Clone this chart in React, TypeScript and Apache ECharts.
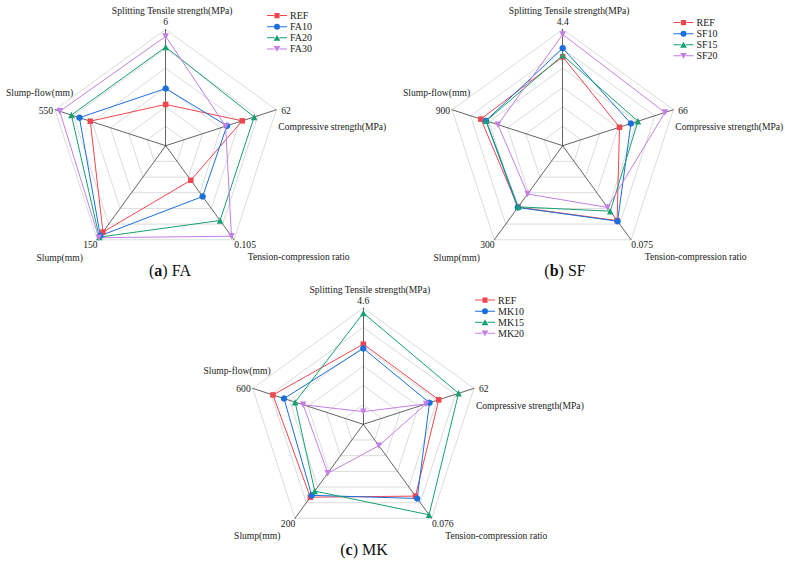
import React, { useEffect, useRef } from "react";
import * as echarts from "echarts";

// Indicator names in natural order: Splitting, Compressive, Tension-compression, Slump, Slump-flow
const indicatorNames = [
  "Splitting Tensile strength(MPa)",
  "Compressive strength(MPa)",
  "Tension-compression ratio",
  "Slump(mm)",
  "Slump-flow(mm)",
];

// (a) FA
const faMax = [6, 62, 0.105, 150, 550];
const faMaxLabels = ["6", "62", "0.105", "150", "550"];
const faNames = ["REF", "FA10", "FA20", "FA30"];
const faREF = [2.13, 42.9, 0.0386, 137.7, 375];
const faFA10 = [2.95, 34.3, 0.0567, 143.5, 429];
const faFA20 = [5.09, 49.6, 0.0835, 145.7, 469];
const faFA30 = [5.64, 33.6, 0.101, 146.7, 527];

// (b) SF
const sfMax = [4.4, 66, 0.075, 300, 900];
const sfMaxLabels = ["4.4", "66", "0.075", "300", "900"];
const sfNames = ["REF", "SF10", "SF15", "SF20"];
const sfREF = [3.36, 33.9, 0.0597, 196, 666];
const sfSF10 = [3.69, 40.7, 0.0602, 197, 625];
const sfSF15 = [3.42, 44.9, 0.0522, 195, 622];
const sfSF20 = [4.21, 61.0, 0.0492, 154, 527];

// (c) MK
const mkMax = [4.6, 62, 0.076, 200, 600];
const mkMaxLabels = ["4.6", "62", "0.076", "200", "600"];
const mkNames = ["REF", "MK10", "MK15", "MK20"];
const mkREF = [3.17, 42.3, 0.058, 155, 490];
const mkMK10 = [3.0, 37.1, 0.0599, 151, 430];
const mkMK15 = [4.4, 53.4, 0.0731, 142, 370];
const mkMK20 = [0.5, 35.2, 0.0173, 104, 326];

const captions = ["a", "b", "c"];
const captionSuffix = ["FA", "SF", "MK"];

const COLORS = ["#f0474f", "#1a6fdc", "#17a070", "#c47fe6"];
const SYMBOLS = ["rect", "circle", "triangle", "path://M0,0L10,0L5,9Z"];
const SYMBOL_SIZES = [5.5, 6.5, 6.5, 6.5];
const LEGEND_ICONS = [
  "path://M0,3H7V4H0Z M13,3H20V4H13Z M7.4,1H12.6V6.2H7.4Z",
  "path://M0,3H7V4H0Z M13,3H20V4H13Z M7,3.5A3,3,0,1,1,13,3.5A3,3,0,1,1,7,3.5Z",
  "path://M0,3H7.6V4H0Z M12.4,3H20V4H12.4Z M10,0.6L13.4,6.4L6.6,6.4Z",
  "path://M0,3H7.6V4H0Z M12.4,3H20V4H12.4Z M6.6,0.6L13.4,0.6L10,6.4Z",
];

// ECharts radar places indicators counter-clockwise from the top:
// top, left, bottom-left, bottom-right, right
const ORDER = [0, 4, 3, 2, 1];

const FONT = "Liberation Serif";
const FS = 9.6;

function reorder<T>(arr: T[]): T[] {
  return ORDER.map((i) => arr[i]);
}

function makeRadar(cx: number, cy: number, r: number, max: number[]) {
  return {
    center: [cx, cy],
    radius: r,
    startAngle: 90,
    shape: "polygon",
    splitNumber: 6,
    indicator: reorder(indicatorNames).map((n, k) => ({
      name: n,
      min: 0,
      max: reorder(max)[k],
    })),
    axisName: { show: false },
    axisLine: { lineStyle: { color: "#3c3c3c", width: 0.8 } },
    splitLine: { lineStyle: { color: "#d2d2d2", width: 0.8 } },
    splitArea: { show: false },
    axisTick: { show: false },
    axisLabel: { show: false },
  };
}

function makeSeries(radarIndex: number, names: string[], values: number[][]) {
  return {
    type: "radar",
    radarIndex,
    data: names.map((n, i) => ({
      name: n,
      value: reorder(values[i]),
      symbol: SYMBOLS[i],
      symbolSize: SYMBOL_SIZES[i],
      itemStyle: { color: COLORS[i] },
      lineStyle: { color: COLORS[i], width: 1 },
    })),
  };
}

function makeLegend(left: number, top: number, names: string[]) {
  return {
    orient: "vertical",
    left,
    top,
    padding: 0,
    itemWidth: 20,
    itemHeight: 7,
    itemGap: 0,
    itemStyle: { borderWidth: 0 },
    textStyle: {
      fontFamily: FONT,
      fontSize: 10,
      color: "#1a1a1a",
      lineHeight: 11.1,
      padding: [0, 0, 0, -2],
    },
    data: names.map((n, i) => ({ name: n, icon: LEGEND_ICONS[i] })),
  };
}

function txt(text: string, x: number, y: number, align: string) {
  return {
    type: "text",
    silent: true,
    style: {
      text,
      x,
      y,
      fill: "#1a1a1a",
      font: FS + "px " + FONT,
      fontFamily: FONT,
      fontSize: FS,
      align,
      verticalAlign: "middle",
    },
  };
}

function axisLabels(cx: number, cy: number, r: number, maxLabels: string[]) {
  const pt = (deg: number) => [
    cx + r * Math.cos((deg * Math.PI) / 180),
    cy - r * Math.sin((deg * Math.PI) / 180),
  ];
  const [tx, ty] = pt(90);
  const [rx, ry] = pt(18);
  const [brx, bry] = pt(-54);
  const [blx, bly] = pt(-126);
  const [lx, ly] = pt(162);
  return [
    txt(indicatorNames[0], tx + 6.5, ty - 18.5, "center"),
    txt(maxLabels[0], tx, ty - 8, "center"),
    txt(maxLabels[1], rx + 5, ry + 0.5, "left"),
    txt(indicatorNames[1], rx + 2, ry + 17, "left"),
    txt(maxLabels[2], brx + 0.3, bry + 5, "left"),
    txt(indicatorNames[2], brx + 13.7, bry + 17, "left"),
    txt(maxLabels[3], blx + 0.3, bly + 5, "right"),
    txt(indicatorNames[3], blx - 14.5, bly + 17.3, "right"),
    txt(maxLabels[4], lx - 2, ly + 0.3, "right"),
    txt(indicatorNames[4], lx + 18, ly - 17.5, "right"),
  ];
}

function caption(k: number, x: number, y: number) {
  return {
    type: "text",
    silent: true,
    style: {
      text: "({b|" + captions[k] + "}) " + captionSuffix[k],
      x,
      y,
      fill: "#111",
      fontFamily: FONT,
      fontSize: 16,
      align: "center",
      verticalAlign: "middle",
      rich: {
        b: { fontFamily: FONT, fontSize: 16, fontWeight: "bold", fill: "#111" },
      },
    },
  };
}

const CENTERS = [
  [165.7, 145.7],
  [562.7, 145.7],
  [363.3, 424.3],
];
const RADIUS = 116.3;

export default function App() {
  const ref = useRef<HTMLDivElement>(null);
  useEffect(() => {
    document.body.style.margin = "0";
    if (!ref.current) return;
    const chart = echarts.init(ref.current, undefined, { renderer: "svg" });
    const option = {
      animation: false,
      backgroundColor: "#ffffff",
      textStyle: { fontFamily: FONT },
      radar: [
        makeRadar(CENTERS[0][0], CENTERS[0][1], RADIUS, faMax),
        makeRadar(CENTERS[1][0], CENTERS[1][1], RADIUS, sfMax),
        makeRadar(CENTERS[2][0], CENTERS[2][1], RADIUS, mkMax),
      ],
      legend: [
        makeLegend(267, 10.1, faNames),
        makeLegend(673.5, 17, sfNames),
        makeLegend(475, 294.5, mkNames),
      ],
      series: [
        makeSeries(0, faNames, [faREF, faFA10, faFA20, faFA30]),
        makeSeries(1, sfNames, [sfREF, sfSF10, sfSF15, sfSF20]),
        makeSeries(2, mkNames, [mkREF, mkMK10, mkMK15, mkMK20]),
      ],
      graphic: [
        ...axisLabels(CENTERS[0][0], CENTERS[0][1], RADIUS, faMaxLabels),
        ...axisLabels(CENTERS[1][0], CENTERS[1][1], RADIUS, sfMaxLabels),
        ...axisLabels(CENTERS[2][0], CENTERS[2][1], RADIUS, mkMaxLabels),
        caption(0, 170, 270),
        caption(1, 565, 270),
        caption(2, 364, 549),
      ],
    };
    chart.setOption(option as any);
    return () => chart.dispose();
  }, []);
  return <div ref={ref} style={{ width: 785, height: 564 }} />;
}
